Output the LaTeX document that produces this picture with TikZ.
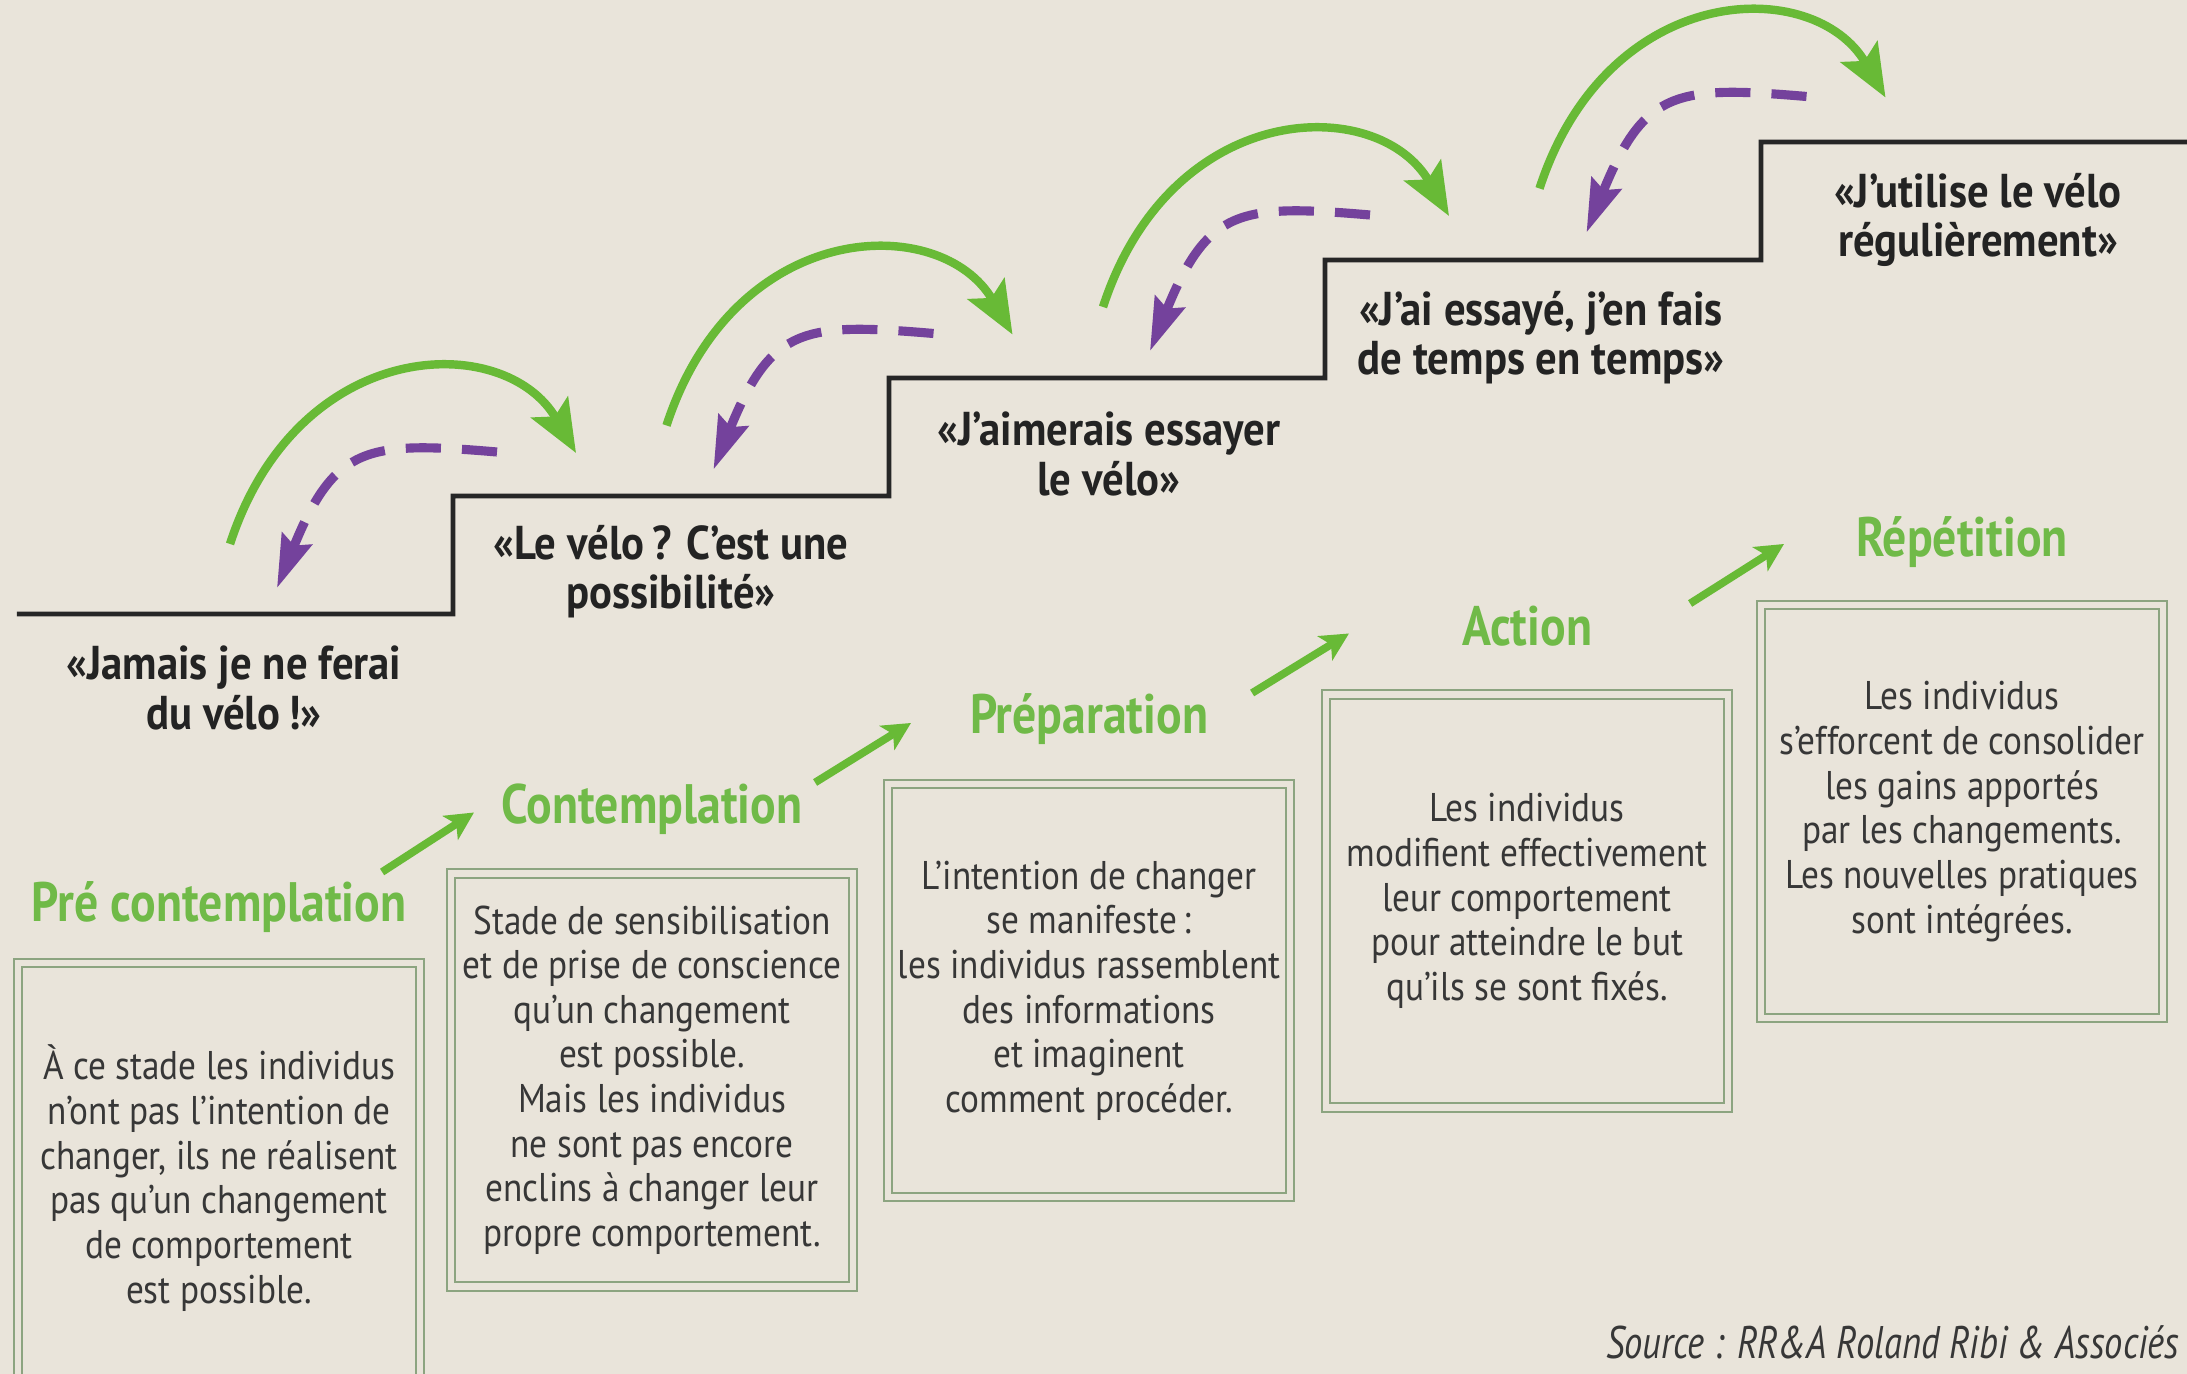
\documentclass[tikz,border=0pt]{standalone}
\usepackage{fontspec}
\setmainfont{PT Sans}[FakeStretch=0.88]
\newfontfamily\quotefont{PT Sans}[FakeStretch=0.9]
\newfontfamily\stagefont{PT Sans}[FakeStretch=0.86]
\newfontfamily\sourcefont{PT Sans}[FakeStretch=0.8]
\usetikzlibrary{arrows.meta,positioning}
\definecolor{paper}{RGB}{233,228,218}
\definecolor{quoteink}{RGB}{35,35,35}
\definecolor{boxink}{RGB}{55,55,55}
\definecolor{stagegreen}{RGB}{112,186,72}
\definecolor{jumpgreen}{RGB}{104,186,54}
\definecolor{backpurple}{RGB}{116,66,156}
\definecolor{framegreen}{RGB}{140,164,128}
\tikzset{
  stair line/.style={line width=1.4pt,black!85},
  quote text/.style={font=\quotefont\bfseries\fontsize{13.5}{14}\selectfont,text=quoteink,align=center,inner sep=0pt},
  stage label/.style={font=\stagefont\bfseries\fontsize{15.8}{18}\selectfont,text=stagegreen,inner sep=0pt,anchor=base},
  stage box/.style={draw=framegreen,line width=0.6pt,double=paper,double distance=1.8pt,
    minimum width=4.02cm,minimum height=4.13cm,inner sep=0pt,anchor=north west,
    align=center,font=\fontsize{11.4}{12.7}\selectfont,text=boxink},
  jump arrow/.style={line width=2.4pt,jumpgreen,-{Stealth[length=15pt,width=12pt,inset=3pt]}},
  back arrow/.style={line width=2.6pt,backpurple,dash pattern=on 10pt off 6pt,-{Stealth[length=15pt,width=9pt,inset=2pt]}},
  stage arrow/.style={line width=2.2pt,jumpgreen,-{Stealth[length=8pt,width=8pt,inset=2pt]}},
  source text/.style={font=\sourcefont\itshape\fontsize{13}{15}\selectfont,text=boxink,inner sep=0pt},
}

\begin{document}
\begin{tikzpicture}
\useasboundingbox (0,0) rectangle (21.87,13.74);
\fill[paper] (0,0) rectangle (21.87,13.74);
% staircase
\draw[stair line] (0.17,7.60) -- ++(4.36,0) -- ++(0,1.18) -- ++(4.36,0) -- ++(0,1.18)
  -- ++(4.36,0) -- ++(0,1.18) -- ++(4.36,0) -- ++(0,1.18) -- (22,12.32);
\node[quote text] (q1) at (2.34,6.86) {«Jamais je ne ferai\\du vélo\,!»};
\node[quote text] (q2) at (6.71,8.02) {«Le vélo\,? C’est une\\possibilité»};
\node[quote text] (q3) at (11.09,9.20) {«J’aimerais essayer\\le vélo»};
\node[quote text] (q4) at (15.41,10.36) {«J’ai essayé, j’en fais\\de temps en temps»};
\node[quote text] (q5) at (19.78,11.54) {«J’utilise le vélo\\régulièrement»};
% jumps forward and back
\foreach \i in {0,...,3}{
  \begin{scope}[shift={(\i*4.365,\i*1.185)}]
    \draw[jump arrow] (2.30,8.30) .. controls (2.98,10.39) and (5.05,10.44) .. (5.76,9.21);
    \draw[back arrow] (4.97,9.22) .. controls (3.67,9.33) and (3.35,9.29) .. (2.77,7.86);
  \end{scope}
}
% stages
\node[stage box,minimum height=4.3cm] (box1) at (0.17,4.12) {À ce stade les individus\\n'ont pas l'intention de\\changer, ils ne réalisent\\pas qu'un changement\\de comportement\\est possible.};
\node[stage box] (box2) at (4.50,5.015) {Stade de sensibilisation\\et de prise de conscience\\qu’un changement\\est possible.\\Mais les individus\\ne sont pas encore\\enclins à changer leur\\propre comportement.};
\node[stage box] (box3) at (8.87,5.91) {L'intention de changer\\se manifeste\,:\\les individus rassemblent\\des informations\\et imaginent\\comment procéder.};
\node[stage box] (box4) at (13.25,6.805) {Les individus\\modifient effectivement\\leur comportement\\pour atteindre le but\\qu'ils se sont fixés.};
\node[stage box] (box5) at (17.60,7.70) {Les individus\\s’efforcent de consolider\\les gains apportés\\par les changements.\\Les nouvelles pratiques\\sont intégrées.};
\node[stage label] (pre) at ([yshift=4.0mm]box1.north) {Pré contemplation};
\node[stage label] (contemp) at ([yshift=4.9mm]box2.north) {Contemplation};
\node[stage label] (prep) at ([yshift=4.9mm]box3.north) {Préparation};
\node[stage label] (action) at ([yshift=4.8mm]box4.north) {Action};
\node[stage label] (rep) at ([yshift=4.7mm]box5.north) {Répétition};
\foreach \a/\b in {box1/box2,box2/box3,box3/box4,box4/box5}
  \draw[stage arrow] ([shift={(-0.39,0.90)}]\a.north east) -- ([shift={(0.24,0.60)}]\b.north west);
\node[source text,anchor=east] (src) at (21.80,0.32) {Source : RR\&A Roland Ribi \& Associés};
\end{tikzpicture}
\end{document}
